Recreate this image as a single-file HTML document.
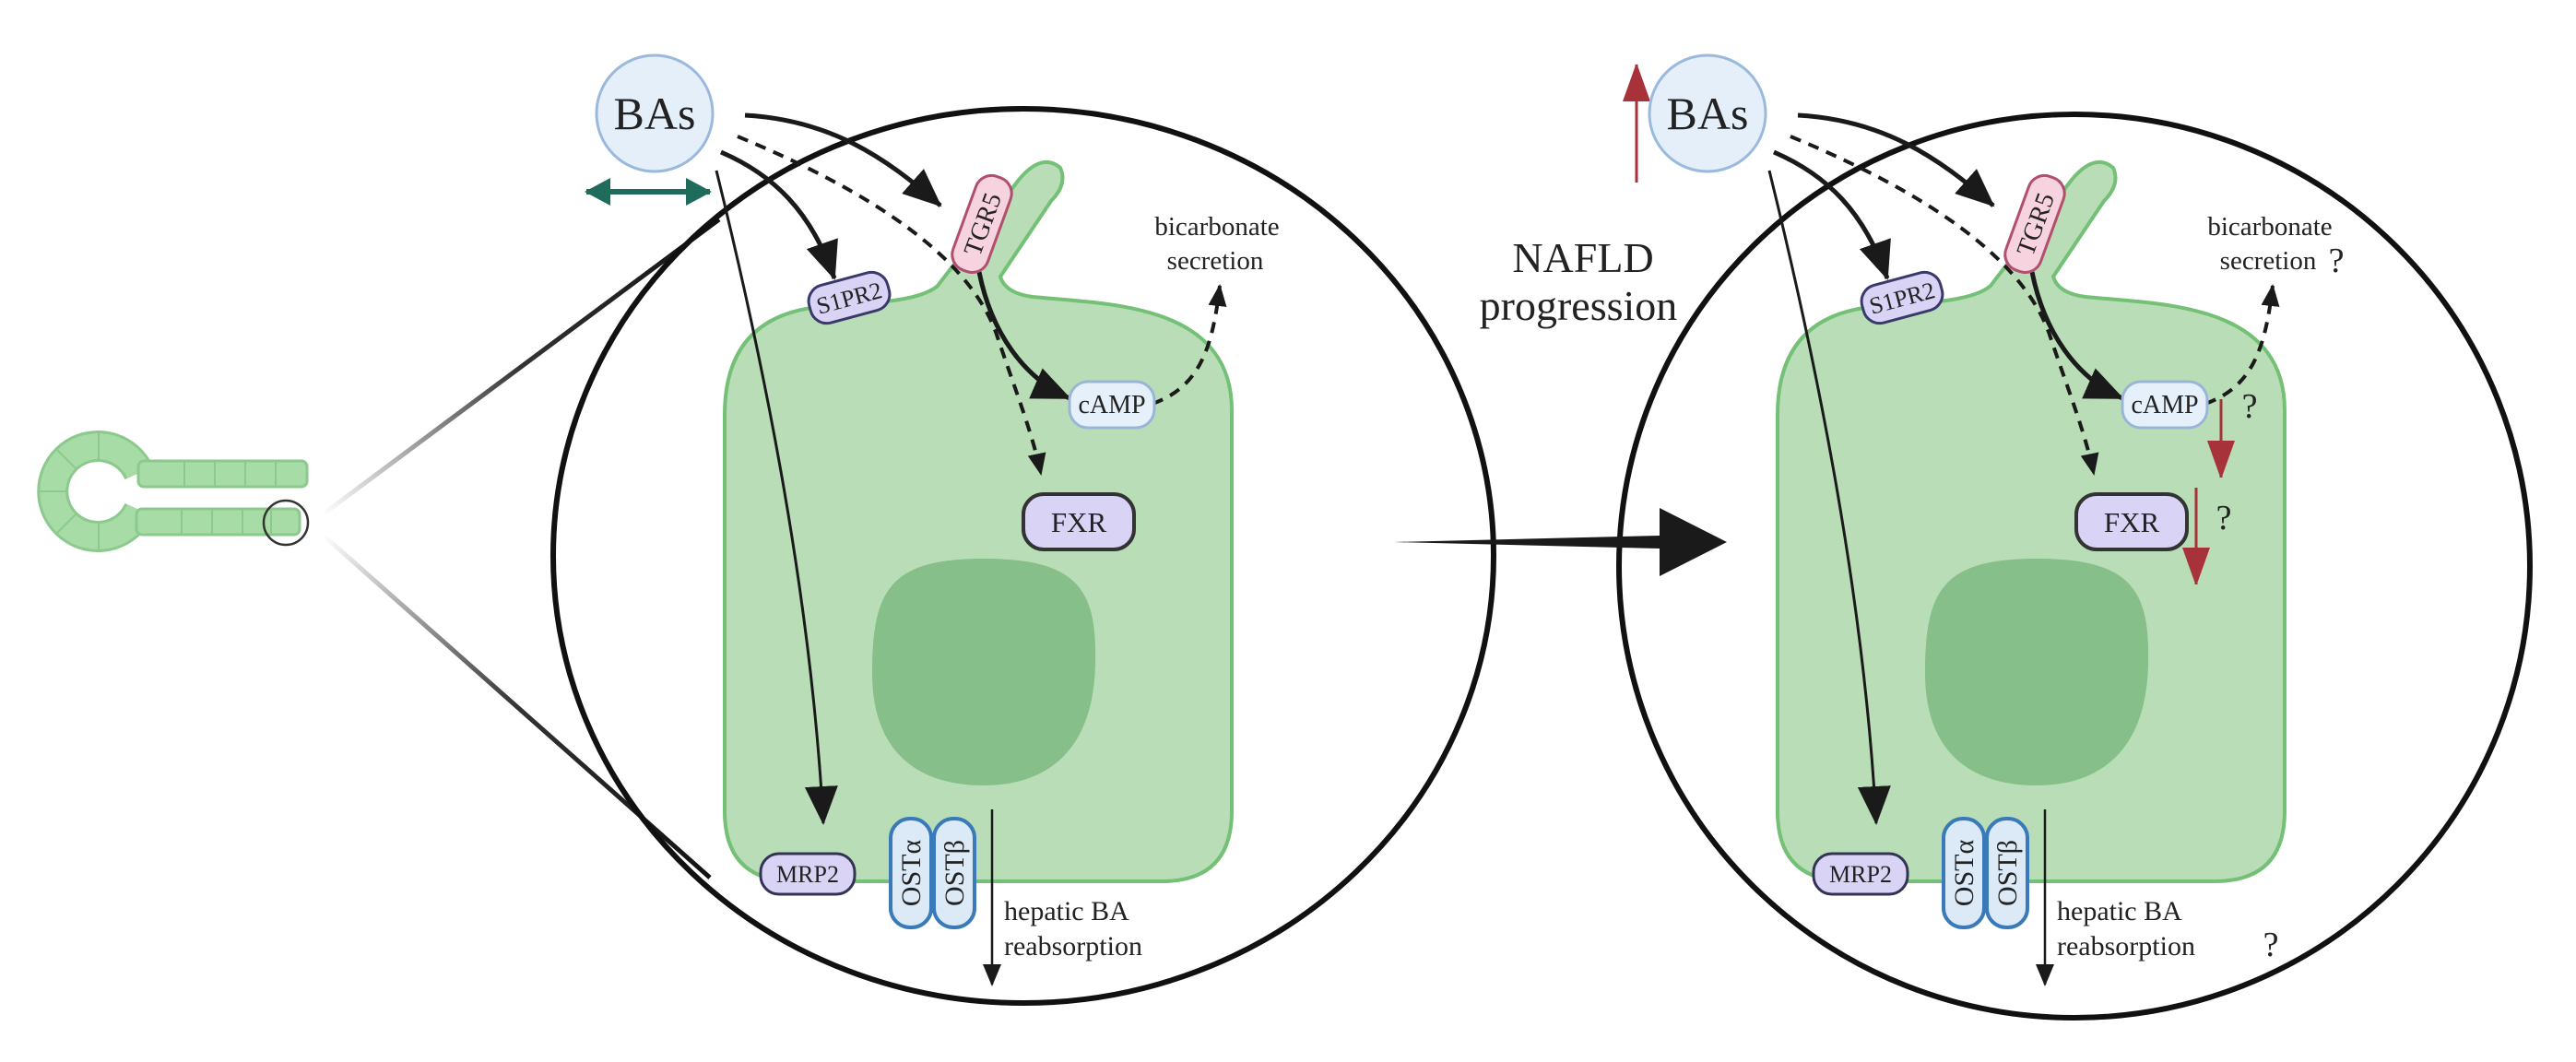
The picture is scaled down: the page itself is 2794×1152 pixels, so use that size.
<!DOCTYPE html>
<html><head><meta charset="utf-8"><style>
html,body{margin:0;padding:0;background:#fff}
svg{display:block}
</style></head><body>
<svg width="2794" height="1152" viewBox="0 0 2794 1152" xmlns="http://www.w3.org/2000/svg" font-family="'Liberation Serif', serif">
<defs>
<marker id="big" markerUnits="userSpaceOnUse" markerWidth="50" markerHeight="40" refX="40" refY="18" orient="auto"><path d="M0 0 L42 18 L0 36 Z" fill="#1a1a1a"/></marker>
<marker id="sm" markerUnits="userSpaceOnUse" markerWidth="30" markerHeight="24" refX="22" refY="10" orient="auto"><path d="M0 0 L24 10 L0 20 Z" fill="#1a1a1a"/></marker>
<marker id="gr" markerUnits="userSpaceOnUse" markerWidth="40" markerHeight="40" refX="26" refY="15" orient="auto"><path d="M0 0 L28 15 L0 30 Z" fill="#1f6b5c"/></marker>
<marker id="gr2" markerUnits="userSpaceOnUse" markerWidth="40" markerHeight="40" refX="2" refY="15" orient="auto"><path d="M28 0 L0 15 L28 30 Z" fill="#1f6b5c"/></marker>
<marker id="red" markerUnits="userSpaceOnUse" markerWidth="40" markerHeight="50" refX="40" refY="15" orient="auto"><path d="M0 0 L42 15 L0 30 Z" fill="#a8323a"/></marker>
<linearGradient id="lg1" gradientUnits="userSpaceOnUse" x1="350" y1="558" x2="780" y2="238"><stop offset="0" stop-color="#fff"/><stop offset="0.5" stop-color="#333"/><stop offset="1" stop-color="#111"/></linearGradient>
<linearGradient id="lg2" gradientUnits="userSpaceOnUse" x1="350" y1="580" x2="770" y2="952"><stop offset="0" stop-color="#fff"/><stop offset="0.5" stop-color="#333"/><stop offset="1" stop-color="#111"/></linearGradient>
<g id="cell">
<path d="M786 450 Q786 338 900 332 C960 328 1000 325 1017 310 L1105 195 Q1130 165 1150 182 Q1158 200 1140 218 L1085 300 Q1090 318 1120 322 C1200 330 1336 328 1336 445 L1336 880 Q1336 956 1260 956 L862 956 Q786 956 786 880 Z" fill="#b9deb7" stroke="#74c076" stroke-width="4"/>
<path d="M1067 606 C1170 606 1190 640 1188 720 C1186 820 1130 852 1067 852 C1000 852 946 820 946 730 C946 640 965 606 1067 606 Z" fill="#86bf89"/>
</g>
</defs>

<!-- tubule -->
<g>
<path d="M151 513 A49 49 0 1 0 151 553" fill="none" stroke="#8bc98c" stroke-width="34"/>
<path d="M151 513 A49 49 0 1 0 151 553" fill="none" stroke="#a8dca6" stroke-width="28"/>
<rect x="150" y="500" width="183" height="28" rx="6" fill="#a8dca6" stroke="#8bc98c" stroke-width="3"/>
<rect x="148" y="552" width="177" height="28" rx="6" fill="#a8dca6" stroke="#8bc98c" stroke-width="3"/>
<g stroke="#8bc98c" stroke-width="2">
<line x1="200" y1="500" x2="200" y2="528"/><line x1="233" y1="500" x2="233" y2="528"/><line x1="266" y1="500" x2="266" y2="528"/><line x1="299" y1="500" x2="299" y2="528"/>
<line x1="197" y1="552" x2="197" y2="580"/><line x1="230" y1="552" x2="230" y2="580"/><line x1="263" y1="552" x2="263" y2="580"/><line x1="294" y1="552" x2="294" y2="580"/>
<line x1="107" y1="469" x2="107" y2="499"/><line x1="107" y1="567" x2="107" y2="597"/><line x1="43" y1="533" x2="73" y2="533"/>
<line x1="62" y1="488" x2="83" y2="509"/><line x1="62" y1="578" x2="83" y2="557"/>
</g>
<circle cx="310" cy="567" r="24" fill="none" stroke="#333" stroke-width="2.5"/>
</g>
<line x1="350" y1="558" x2="780" y2="238" stroke="url(#lg1)" stroke-width="5"/>
<line x1="350" y1="580" x2="770" y2="952" stroke="url(#lg2)" stroke-width="5"/>

<!-- circles -->
<ellipse cx="1110" cy="603" rx="510" ry="485" fill="none" stroke="#111" stroke-width="6"/>
<ellipse cx="2250" cy="614" rx="494" ry="490" fill="none" stroke="#111" stroke-width="6"/>

<!-- big arrow -->
<polygon points="1512,588 1800,581 1800,551 1873,588 1800,625 1800,595" fill="#1a1a1a"/>
<text x="1717" y="295" font-size="46" text-anchor="middle" fill="#222">NAFLD</text>
<text x="1712" y="347" font-size="46" text-anchor="middle" fill="#222">progression</text>

<!-- green double arrow -->
<line x1="636" y1="208" x2="770" y2="208" stroke="#1f6b5c" stroke-width="6" marker-end="url(#gr)" marker-start="url(#gr2)"/>
<!-- red up arrow -->
<line x1="1775" y1="198" x2="1775" y2="70" stroke="#a8323a" stroke-width="3" marker-end="url(#red)"/>

<g id="panel" fill="#222">
<use href="#cell"/>
<path d="M777 185 C830 400 880 650 893 893" fill="none" stroke="#1a1a1a" stroke-width="3" marker-end="url(#big)"/>
<path d="M808 125 C900 130 960 170 1020 223" fill="none" stroke="#1a1a1a" stroke-width="5" marker-end="url(#big)"/>
<path d="M782 165 C840 190 880 230 905 302" fill="none" stroke="#1a1a1a" stroke-width="5" marker-end="url(#big)"/>
<path d="M800 148 C950 210 1050 280 1080 360 C1100 420 1120 470 1129 514" fill="none" stroke="#1a1a1a" stroke-width="4" stroke-dasharray="12 9" marker-end="url(#sm)"/>
<path d="M1062 295 C1075 360 1110 410 1160 432" fill="none" stroke="#1a1a1a" stroke-width="5" marker-end="url(#big)"/>
<path d="M1250 438 C1300 420 1315 380 1323 310" fill="none" stroke="#1a1a1a" stroke-width="4" stroke-dasharray="12 9" marker-end="url(#sm)"/>
<line x1="1076" y1="878" x2="1076" y2="1068" stroke="#1a1a1a" stroke-width="2.5" marker-end="url(#sm)"/>
<circle cx="710" cy="123" r="63" fill="#e4effa" stroke="#9ab9dc" stroke-width="3"/>
<text x="710" y="140" font-size="50" text-anchor="middle">BAs</text>
<g transform="translate(921 323) rotate(-15)"><rect x="-44" y="-21" width="88" height="42" rx="18" fill="#d9d3f5" stroke="#3a3a6a" stroke-width="3"/><text y="9" font-size="26" text-anchor="middle" fill="#222">S1PR2</text></g>
<g transform="translate(1065 243) rotate(-70)"><rect x="-54" y="-20" width="108" height="40" rx="18" fill="#f6d3df" stroke="#b04f6e" stroke-width="3"/><text y="10" font-size="28" text-anchor="middle" fill="#222">TGR5</text></g>
<rect x="1160" y="414" width="92" height="50" rx="20" fill="#e6f0fa" stroke="#9ab6d6" stroke-width="3"/>
<text x="1206" y="448" font-size="28" text-anchor="middle">cAMP</text>
<rect x="1110" y="536" width="120" height="60" rx="22" fill="#d9d3f5" stroke="#333" stroke-width="4"/>
<text x="1170" y="577" font-size="31" text-anchor="middle">FXR</text>
<rect x="825" y="926" width="102" height="44" rx="20" fill="#d9d3f5" stroke="#333355" stroke-width="3"/>
<text x="876" y="957" font-size="26" text-anchor="middle">MRP2</text>
<rect x="966" y="888" width="44" height="118" rx="21" fill="#dceaf7" stroke="#3a7ab8" stroke-width="4"/>
<rect x="1013" y="888" width="44" height="118" rx="21" fill="#dceaf7" stroke="#3a7ab8" stroke-width="4"/>
<text transform="translate(998 947) rotate(-90)" font-size="30" text-anchor="middle">OSTα</text>
<text transform="translate(1045 947) rotate(-90)" font-size="30" text-anchor="middle">OSTβ</text>
<text x="1320" y="255" font-size="29" text-anchor="middle">bicarbonate</text>
<text x="1318" y="292" font-size="29" text-anchor="middle">secretion</text>
<text x="1089" y="998" font-size="30">hepatic BA</text>
<text x="1089" y="1036" font-size="30">reabsorption</text>
</g>
<use href="#panel" transform="translate(1142 0)"/>

<g fill="#222">
<text x="2534" y="295" font-size="38" text-anchor="middle">?</text>
<text x="2440" y="453" font-size="38" text-anchor="middle">?</text>
<text x="2412" y="574" font-size="38" text-anchor="middle">?</text>
<text x="2463" y="1037" font-size="38" text-anchor="middle">?</text>
</g>
<line x1="2409" y1="433" x2="2409" y2="518" stroke="#a8323a" stroke-width="3" marker-end="url(#red)"/>
<line x1="2382" y1="529" x2="2382" y2="634" stroke="#a8323a" stroke-width="3" marker-end="url(#red)"/>
</svg>
</body></html>
